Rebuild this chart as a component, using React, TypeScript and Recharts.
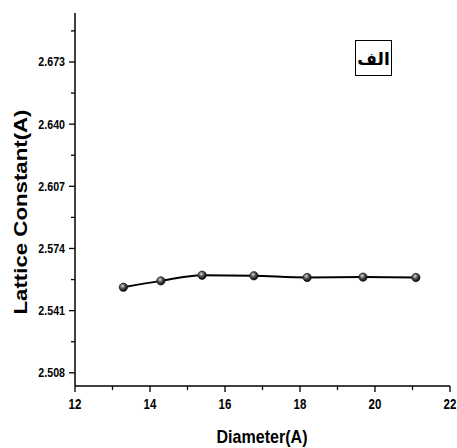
import { LineChart, Line, XAxis, YAxis, Customized } from "recharts";

// Diameter (A) vs lattice constant (A)
const diameters = [13.29, 14.29, 15.39, 16.77, 18.19, 19.68, 21.09];
const latticeConstants = [2.5534, 2.5568, 2.5598, 2.5595, 2.5586, 2.5588, 2.5586];

const xMajorTicks = [12, 14, 16, 18, 20, 22];
const xAllTicks = [12, 13, 14, 15, 16, 17, 18, 19, 20, 21, 22];
const yMajorTicks = [2.508, 2.541, 2.574, 2.607, 2.64, 2.673];
const yAllTicks = [2.508, 2.5245, 2.541, 2.5575, 2.574, 2.5905, 2.607, 2.6235, 2.64, 2.6565, 2.673, 2.6895];

const panelLabel = "الف";
const xTitle = "Diameter(A)";
const yTitle = "Lattice Constant(A)";

const data = diameters.map((d, i) => ({ d, a: latticeConstants[i] }));

const sans = "'Liberation Sans', Arial, sans-serif";

// no narrow font installed, so squeeze Liberation Sans horizontally
const NarrowText = ({ x, y, anchor, size, children }: any) => (
  <g transform={`translate(${x} ${y}) scale(0.82 1)`}>
    <text x={0} y={0} textAnchor={anchor} fontFamily={sans} fontWeight="bold" fontSize={size} fill="#000">
      {children}
    </text>
  </g>
);

const XTick = (props: any) => {
  const { x, y, payload } = props;
  const major = xMajorTicks.includes(payload.value);
  return (
    <g>
      <line x1={x} x2={x} y1={y} y2={y + (major ? 6 : 4)} stroke="#000" strokeWidth={1.3} />
      {major && (
        <NarrowText x={x} y={y + 23} anchor="middle" size={14}>
          {payload.value}
        </NarrowText>
      )}
    </g>
  );
};

const YTick = (props: any) => {
  const { x, y, payload } = props;
  const major = yMajorTicks.some((t) => Math.abs(t - payload.value) < 1e-6);
  return (
    <g>
      <line x1={x - (major ? 6 : 4)} x2={x} y1={y} y2={y} stroke="#000" strokeWidth={1.3} />
      {major && (
        <NarrowText x={x - 10} y={y + 4.5} anchor="end" size={13}>
          {payload.value.toFixed(3)}
        </NarrowText>
      )}
    </g>
  );
};

const Ball = (props: any) => {
  const { cx, cy } = props;
  if (cx == null || cy == null) return null;
  return <circle cx={cx} cy={cy} r={4.2} fill="url(#ball)" stroke="#111" strokeWidth={0.6} />;
};

const Extras = () => (
  <g>
    <defs>
      <radialGradient id="ball" cx="40%" cy="35%" r="65%">
        <stop offset="0%" stopColor="#d8d8d8" />
        <stop offset="45%" stopColor="#555" />
        <stop offset="100%" stopColor="#000" />
      </radialGradient>
    </defs>
    <rect x={355.5} y={40.5} width={36} height={35} fill="#fff" stroke="#000" strokeWidth={1} />
    <text x={373.5} y={65} textAnchor="middle" fontFamily="'DejaVu Sans', sans-serif" fontWeight="bold" fontSize={17} fill="#000">
      {panelLabel}
    </text>
    <text
      x={262}
      y={443}
      textAnchor="middle"
      fontFamily={sans}
      fontWeight="bold"
      fontSize={19}
      textLength={91}
      lengthAdjust="spacingAndGlyphs"
      fill="#000"
    >
      {xTitle}
    </text>
    <text
      x={21}
      y={212}
      transform="rotate(-90 21 212)"
      textAnchor="middle"
      dominantBaseline="central"
      fontFamily={sans}
      fontWeight="bold"
      fontSize={18}
      textLength={205}
      lengthAdjust="spacingAndGlyphs"
      fill="#000"
    >
      {yTitle}
    </text>
  </g>
);

export default function App() {
  return (
    <div style={{ position: "absolute", left: 0, top: 0, background: "#fff" }}>
      <LineChart width={457} height={448} data={data} margin={{ top: 13, right: 7, bottom: 0, left: 0 }}>
        <XAxis
          dataKey="d"
          type="number"
          domain={[12, 22]}
          ticks={xAllTicks}
          interval={0}
          height={62}
          tick={<XTick />}
          tickSize={0}
          tickMargin={0}
          axisLine={{ stroke: "#000", strokeWidth: 1.5 }}
          tickLine={false}
        />
        <YAxis
          dataKey="a"
          type="number"
          domain={[2.501, 2.699]}
          ticks={yAllTicks}
          interval={0}
          width={75}
          tick={<YTick />}
          tickSize={0}
          tickMargin={0}
          axisLine={{ stroke: "#000", strokeWidth: 1.5 }}
          tickLine={false}
          allowDataOverflow
        />
        <Line
          type="monotone"
          dataKey="a"
          stroke="#000"
          strokeWidth={2}
          dot={<Ball />}
          activeDot={false}
          isAnimationActive={false}
        />
        <Customized component={Extras} />
      </LineChart>
    </div>
  );
}
